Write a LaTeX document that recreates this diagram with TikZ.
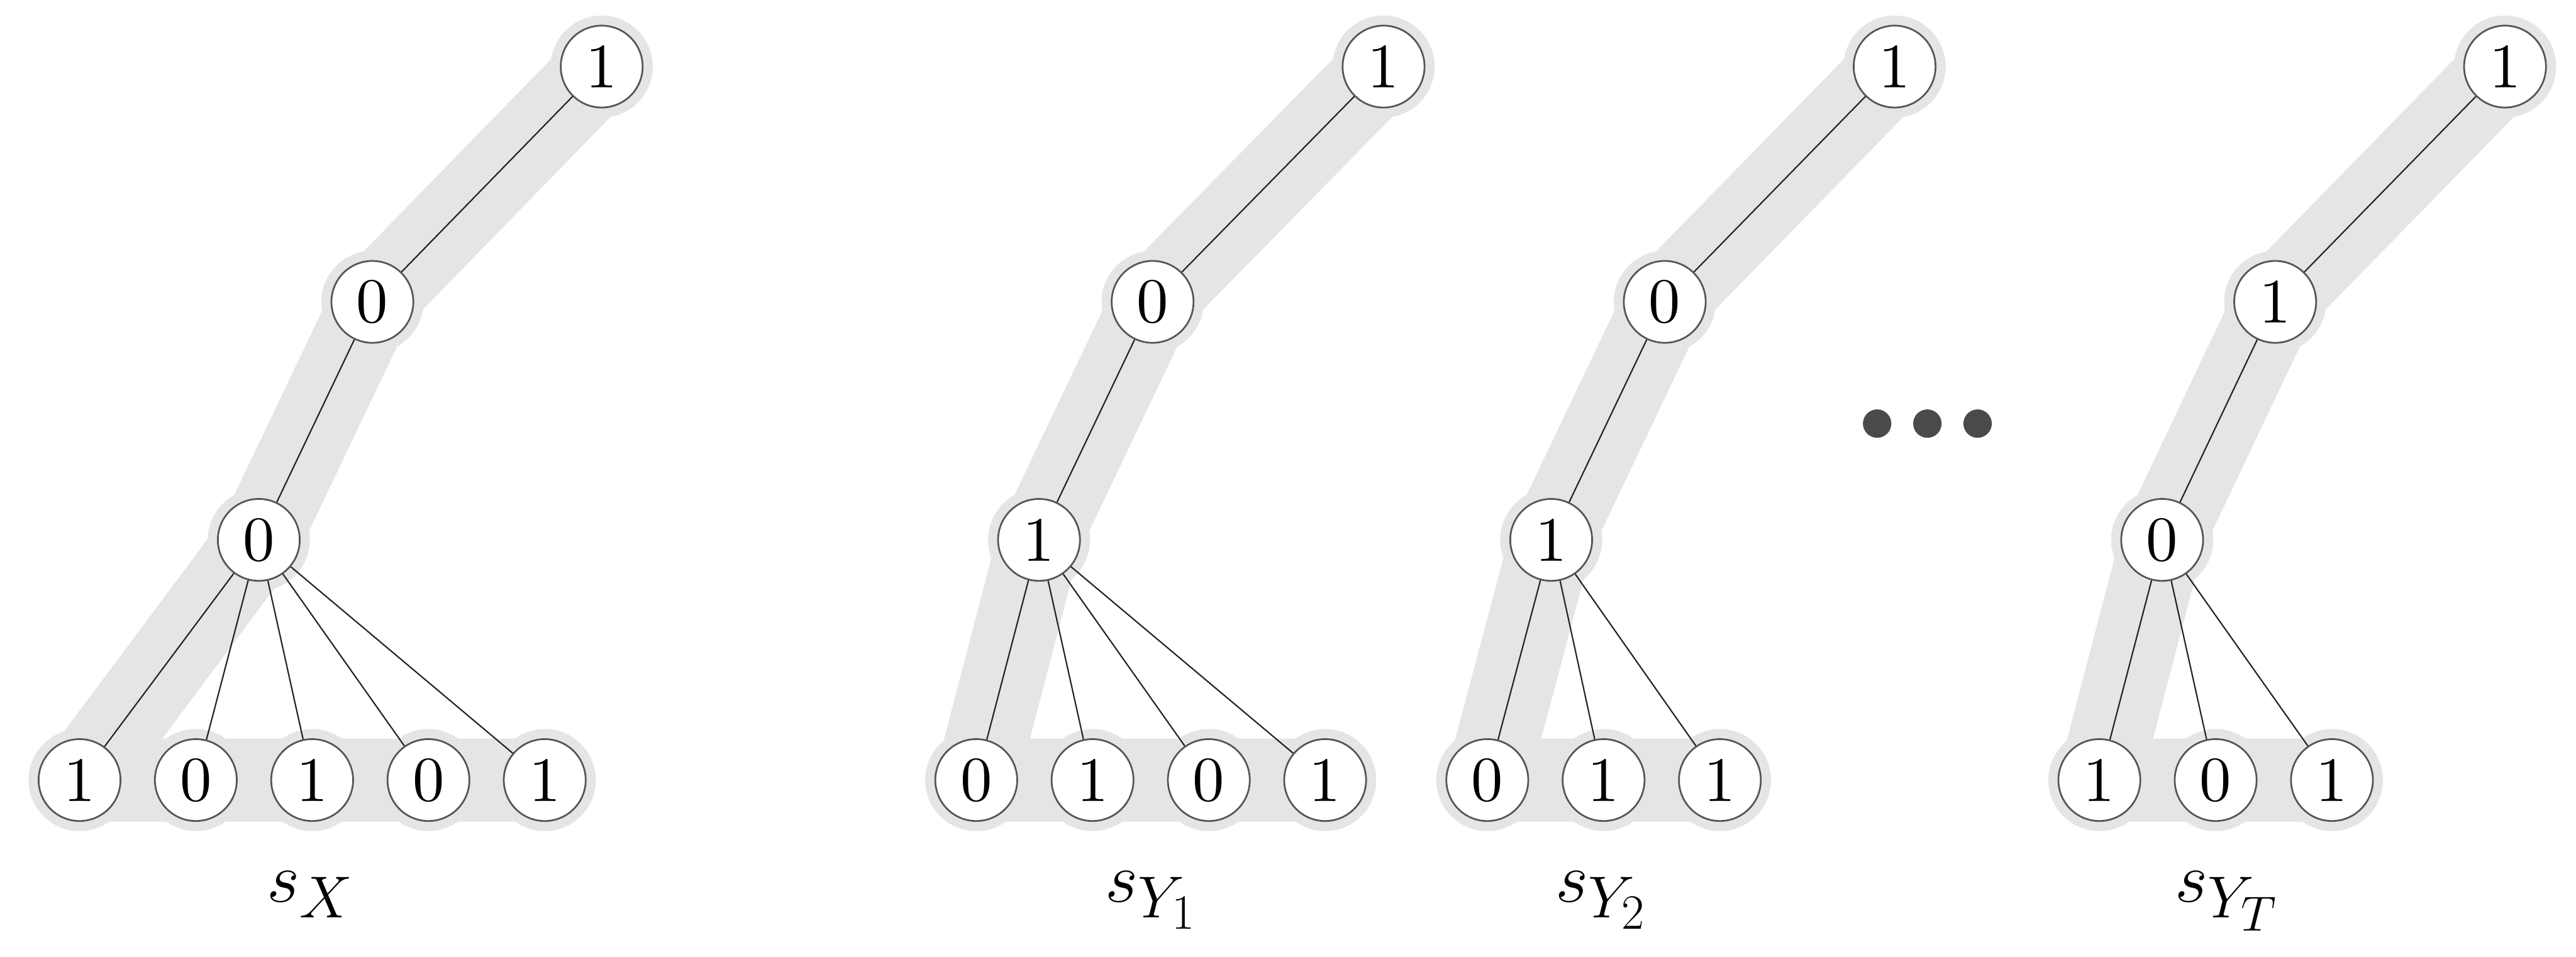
\RequirePackage{fix-cm}
\documentclass[tikz,border=0pt]{standalone}
\definecolor{trackgray}{RGB}{229,229,229}
\definecolor{ringgray}{RGB}{85,85,85}
\definecolor{dotgray}{RGB}{74,74,74}
\definecolor{linkblack}{RGB}{34,34,34}
\DeclareMathSizes{37}{37}{30.85}{25.7}
\newcommand{\bitval}[1]{\scalebox{3.3}{#1}}
\usetikzlibrary{backgrounds}
\tikzset{
  bitnode/.style={draw=ringgray, line width=0.9pt, fill=white, circle,
                  minimum size=1.5cm, inner sep=0pt, font=\fontsize{10}{12}\selectfont},
  track/.style={draw=trackgray, line width=1.52cm, line join=round, line cap=round},
  halo/.style={fill=trackgray},
  link/.style={draw=linkblack, line width=0.7pt},
  dotmark/.style={circle, fill=dotgray, minimum size=0.52cm, inner sep=0pt},
  treelabel/.style={font=\fontsize{37}{44}\selectfont, anchor=base, inner sep=0pt},
}
\begin{document}
\begin{tikzpicture}
\useasboundingbox (0,0) rectangle (47.18,17.52);

% Tree s_X
\node[bitnode] (xTop) at (11.02,16.30) {\bitval{1}};
\node[bitnode] (xMid) at (6.82,11.99) {\bitval{0}};
\node[bitnode] (xLow) at (4.74,7.63) {\bitval{0}};
\foreach \b [count=\i] in {1,0,1,0,1}
  \node[bitnode] (xl\i) at ({1.457+2.13*(\i-1)},3.23) {\bitval{\b}};
\draw[link] (xTop) -- (xMid) -- (xLow);
\foreach \i in {1,...,5} \draw[link] (xLow) -- (xl\i);
\node[treelabel] (labX) at (5.68,1.00) {$s_X$};

% Tree s_{Y_1}
\node[bitnode] (aTop) at (25.34,16.30) {\bitval{1}};
\node[bitnode] (aMid) at (21.11,11.99) {\bitval{0}};
\node[bitnode] (aLow) at (19.03,7.63) {\bitval{1}};
\foreach \b [count=\i] in {0,1,0,1}
  \node[bitnode] (al\i) at ({17.88+2.13*(\i-1)},3.23) {\bitval{\b}};
\draw[link] (aTop) -- (aMid) -- (aLow);
\foreach \i in {1,...,4} \draw[link] (aLow) -- (al\i);
\node[treelabel] (labA) at (21.08,1.00) {$s_{Y_1}$};

% Tree s_{Y_2}
\node[bitnode] (bTop) at (34.70,16.30) {\bitval{1}};
\node[bitnode] (bMid) at (30.49,11.99) {\bitval{0}};
\node[bitnode] (bLow) at (28.41,7.63) {\bitval{1}};
\foreach \b [count=\i] in {0,1,1}
  \node[bitnode] (bl\i) at ({27.24+2.13*(\i-1)},3.23) {\bitval{\b}};
\draw[link] (bTop) -- (bMid) -- (bLow);
\foreach \i in {1,...,3} \draw[link] (bLow) -- (bl\i);
\node[treelabel] (labB) at (29.32,1.00) {$s_{Y_2}$};

% dots
\node[dotmark] (dot1) at (34.38,9.76) {};
\node[dotmark] (dot2) at (35.30,9.76) {};
\node[dotmark] (dot3) at (36.22,9.76) {};

% Tree s_{Y_T}
\node[bitnode] (tTop) at (45.88,16.30) {\bitval{1}};
\node[bitnode] (tMid) at (41.67,11.99) {\bitval{1}};
\node[bitnode] (tLow) at (39.60,7.63) {\bitval{0}};
\foreach \b [count=\i] in {1,0,1}
  \node[bitnode] (tl\i) at ({38.45+2.13*(\i-1)},3.23) {\bitval{\b}};
\draw[link] (tTop) -- (tMid) -- (tLow);
\foreach \i in {1,...,3} \draw[link] (tLow) -- (tl\i);
\node[treelabel] (labT) at (40.78,1.00) {$s_{Y_T}$};

% grey highlighted paths
\begin{scope}[on background layer]
  \draw[track] (xTop.center) -- (xMid.center) -- (xLow.center) -- (xl1.center) -- (xl5.center);
  \draw[track] (aTop.center) -- (aMid.center) -- (aLow.center) -- (al1.center) -- (al4.center);
  \draw[track] (bTop.center) -- (bMid.center) -- (bLow.center) -- (bl1.center) -- (bl3.center);
  \draw[track] (tTop.center) -- (tMid.center) -- (tLow.center) -- (tl1.center) -- (tl3.center);
  \foreach \n in {xTop,xMid,xLow,xl1,xl2,xl3,xl4,xl5,aTop,aMid,aLow,al1,al2,al3,al4,
                  bTop,bMid,bLow,bl1,bl2,bl3,tTop,tMid,tLow,tl1,tl2,tl3}
    \fill[halo] (\n.center) circle (0.935);
\end{scope}
\end{tikzpicture}
\end{document}
